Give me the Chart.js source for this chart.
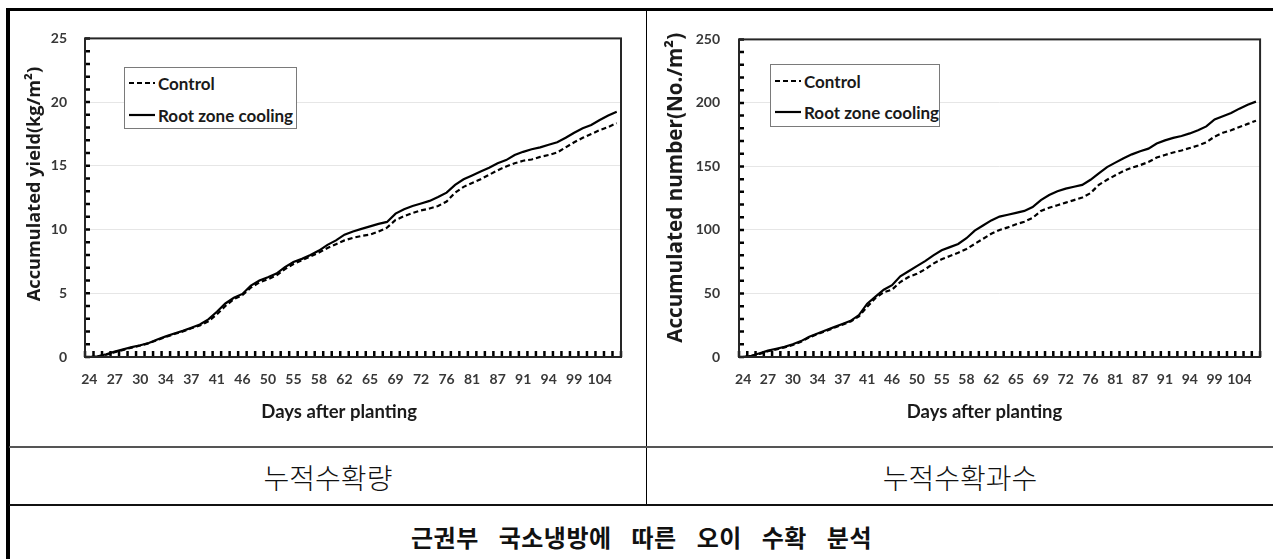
<!DOCTYPE html>
<html>
<head>
<meta charset="utf-8">
<script src="https://cdn.jsdelivr.net/npm/chart.js@4.4.0/dist/chart.umd.min.js"></script>
<style>
  html, body { margin: 0; padding: 0; background: #fff; width: 1273px; height: 559px; overflow: hidden; }
  .frame { position: absolute; left: 6px; top: 8px; width: 1280px; height: 570px; box-sizing: border-box;
           border-left: 4px solid #000; border-top: 3px solid #000; }
  .vdiv { position: absolute; left: 646px; top: 10px; width: 1px; height: 495px; background: #000; }
  .hline { position: absolute; left: 9px; width: 1270px; }
  .h1 { top: 446px; height: 2px; background: #555; }
  .h2 { top: 504px; height: 2px; background: #111; }
  canvas { position: absolute; }
  #c1 { left: 10px; top: 12px; }
  #c2 { left: 650px; top: 12px; }
  .legend { position: absolute; border: 1.5px solid #7a7a7a; background: #fff; box-sizing: border-box;
            font-family: Lato, sans-serif; font-weight: 700; font-size: 17px; color: #1a1a1a; }
  .legend .row { position: absolute; left: 4px; height: 20px; display: flex; align-items: center; white-space: nowrap; }
  .legend svg { margin-right: 3px; }
  .cap { position: absolute; top: 448px; height: 58px; line-height: 58px; text-align: center;
         font-family: 'Noto Sans CJK KR', sans-serif; font-weight: 300; font-size: 28px; color: #111; }
  .title { position: absolute; left: 10px; width: 1263px; top: 512px; height: 50px; line-height: 50px; text-align: center;
           font-family: 'Noto Sans CJK KR', sans-serif; font-weight: 700; font-size: 24px; color: #111;
           letter-spacing: 0.5px; word-spacing: 14px; }
</style>
</head>
<body>
<div class="frame"></div>
<div class="vdiv"></div>
<div class="hline h1"></div>
<div class="hline h2"></div>

<canvas id="c1" width="625" height="420"></canvas>
<canvas id="c2" width="620" height="420"></canvas>

<div class="legend" style="left:124px;top:67px;width:173px;height:62px;">
  <div class="row" style="top:5px;"><svg width="26" height="4"><line x1="0" y1="2" x2="26" y2="2" stroke="#000" stroke-width="2.2" stroke-dasharray="5,3"/></svg>Control</div>
  <div class="row" style="top:37px;"><svg width="26" height="4"><line x1="0" y1="2" x2="26" y2="2" stroke="#000" stroke-width="2.2"/></svg>Root zone cooling</div>
</div>
<div class="legend" style="left:770px;top:64px;width:170px;height:63px;">
  <div class="row" style="top:6px;"><svg width="26" height="4"><line x1="0" y1="2" x2="26" y2="2" stroke="#000" stroke-width="2.2" stroke-dasharray="5,3"/></svg>Control</div>
  <div class="row" style="top:37px;"><svg width="26" height="4"><line x1="0" y1="2" x2="26" y2="2" stroke="#000" stroke-width="2.2"/></svg>Root zone cooling</div>
</div>

<div class="cap" style="left:10px;width:636px;">누적수확량</div>
<div class="cap" style="left:647px;width:626px;">누적수확과수</div>
<div class="title">근권부 국소냉방에 따른 오이 수확 분석</div>

<script>
// Days after planting shown under every third harvest date
const tickDays = [24, 27, 30, 34, 37, 41, 46, 50, 55, 58, 62, 65, 69, 72, 76, 81, 87, 91, 94, 99, 104];

// Accumulated yield (kg/m2) per harvest date
const yieldControl = [
  0.00, 0.03, 0.18, 0.38, 0.56, 0.74, 0.90, 1.08, 1.33, 1.58,
  1.80, 2.00, 2.25, 2.48, 2.80, 3.35, 4.00, 4.55, 4.85, 5.45,
  5.85, 6.10, 6.40, 6.90, 7.30, 7.60, 7.90, 8.20, 8.55, 8.85,
  9.15, 9.35, 9.50, 9.60, 9.85, 10.15, 10.75, 11.05, 11.30, 11.50,
  11.65, 11.85, 12.20, 12.90, 13.35, 13.65, 13.95, 14.30, 14.65, 14.95,
  15.20, 15.40, 15.50, 15.70, 15.85, 16.05, 16.45, 16.85, 17.20, 17.50,
  17.80, 18.05, 18.35
];
const yieldCooling = [
  0.00, 0.05, 0.22, 0.42, 0.60, 0.78, 0.92, 1.10, 1.38, 1.62,
  1.85, 2.05, 2.30, 2.55, 2.95, 3.55, 4.20, 4.65, 4.95, 5.60,
  6.00, 6.25, 6.55, 7.05, 7.45, 7.70, 8.00, 8.35, 8.80, 9.15,
  9.60, 9.85, 10.05, 10.25, 10.45, 10.60, 11.25, 11.60, 11.85, 12.05,
  12.25, 12.55, 12.90, 13.50, 13.95, 14.25, 14.55, 14.85, 15.20, 15.45,
  15.85, 16.10, 16.30, 16.45, 16.65, 16.85, 17.20, 17.60, 17.95, 18.20,
  18.60, 18.95, 19.25
];

// Accumulated fruit number (No./m2) per harvest date
const numberControl = [
  0, 0.8, 2.5, 4.5, 6, 7.5, 9.5, 12, 15.5, 18,
  20.5, 23, 25.5, 28, 32, 39.5, 46.5, 51, 53, 59,
  63, 65.5, 69, 73.5, 77, 79.5, 82, 85, 89, 93,
  97, 100, 102, 104.5, 106.5, 109.5, 115, 117.5, 119.5, 121.5,
  123.5, 125.5, 129, 135.5, 139.5, 143, 146.5, 149, 151, 153.5,
  157, 159, 161, 162.5, 164.5, 166.5, 169, 173.5, 176.5, 178.5,
  181, 183.5, 186
];
const numberCooling = [
  0, 1, 3, 5, 6.5, 8, 10, 12.5, 16, 18.5,
  21, 23.5, 26, 28.5, 33, 42, 47.5, 53, 56.5, 63.5,
  67.5, 71.5, 75.5, 80, 84, 86.5, 89, 93.5, 99.5, 103.5,
  107.5, 110.5, 112, 113.5, 115, 118, 123.5, 127.5, 130.5, 132.5,
  134, 135.5, 139.5, 144.5, 149.5, 153, 156.5, 159.5, 162, 164,
  168, 170.5, 172.5, 174, 176, 178.5, 181.5, 187, 189.5, 192,
  195.5, 198.5, 201
];

// One category per harvest date; only every third one carries a label
const categories = yieldControl.map((_, i) => (i % 3 === 0 ? String(tickDays[i / 3]) : ''));

Chart.defaults.font.family = 'Lato, sans-serif';
Chart.defaults.color = '#3a3a3a';

// Dark box around the plotting area plus short tick marks pointing inward
const plotFrame = {
  id: 'plotFrame',
  afterDraw(chart) {
    const { ctx, chartArea: a, scales: { x, y } } = chart;
    ctx.save();
    ctx.setLineDash([]);
    ctx.strokeStyle = '#000';
    ctx.lineWidth = 2.5;
    ctx.beginPath();
    const n = chart.data.labels.length;
    const half = (x.getPixelForValue(1) - x.getPixelForValue(0)) / 2;
    for (let i = 0; i <= n; i++) {
      const px = i < n ? x.getPixelForValue(i) - half : x.getPixelForValue(n - 1) + half;
      ctx.moveTo(px, a.bottom);
      ctx.lineTo(px, a.bottom - 6);
    }
    y.ticks.forEach(t => {
      const py = y.getPixelForValue(t.value);
      ctx.moveTo(a.left, py);
      ctx.lineTo(a.left + 5, py);
    });
    ctx.stroke();
    ctx.strokeStyle = '#262626';
    ctx.lineWidth = 2;
    ctx.strokeRect(a.left, a.top, a.right - a.left, a.bottom - a.top);
    ctx.restore();
  }
};

function makeChart(canvasId, control, cooling, opts) {
  return new Chart(document.getElementById(canvasId), {
    type: 'line',
    data: {
      labels: categories,
      datasets: [
        { label: 'Control', data: control, borderColor: '#000', borderWidth: 2.2,
          borderDash: [5, 3], pointRadius: 0, tension: 0, fill: false },
        { label: 'Root zone cooling', data: cooling, borderColor: '#000', borderWidth: 2.2,
          pointRadius: 0, tension: 0, fill: false }
      ]
    },
    options: {
      responsive: false,
      animation: false,
      events: [],
      layout: { padding: { top: 25, right: opts.padRight, left: 0, bottom: 0 } },
      plugins: { legend: { display: false }, tooltip: { enabled: false } },
      scales: {
        x: {
          type: 'category',
          offset: true,
          grid: { display: true, offset: true, drawOnChartArea: false, drawTicks: false },
          border: { display: false },
          ticks: { autoSkip: false, maxRotation: 0, minRotation: 0, padding: 14,
                   font: { size: 14, weight: 'bold' }, color: '#383838' },
          title: { display: true, text: opts.xTitle, color: '#1a1a1a',
                   font: { size: 18.5, weight: 'bold' }, padding: { top: 0, bottom: 9 } },
          afterFit: s => { s.height = 75; }
        },
        y: {
          min: 0,
          max: opts.max,
          grid: {
            drawTicks: false,
            color: ctx => (ctx.tick && ctx.tick.value % opts.major === 0 ? '#e6e6e6' : 'rgba(0,0,0,0)'),
            lineWidth: 1
          },
          border: { display: false },
          ticks: {
            stepSize: opts.minor,
            autoSkip: false,
            padding: opts.tickPad,
            font: { size: 14, weight: 'bold' },
            color: '#383838',
            callback: v => (v % opts.major === 0 ? v : '')
          },
          title: { display: true, text: opts.yTitle, color: '#1a1a1a',
                   font: { family: "'Open Sans', sans-serif", size: opts.yTitleSize, weight: 'bold' },
                   padding: { top: opts.yTitlePad, bottom: 0 } },
          afterFit: s => { s.width = opts.yWidth; }
        }
      }
    },
    plugins: [plotFrame]
  });
}

makeChart('c1', yieldControl, yieldCooling, {
  max: 25, major: 5, minor: 1, padRight: 14, yWidth: 75, tickPad: 18,
  xTitle: 'Days after planting\u2003\u2003',
  yTitle: '\u2003\u2002Accumulated yield(kg/m²)', yTitleSize: 18.2, yTitlePad: 14
});
makeChart('c2', numberControl, numberCooling, {
  max: 250, major: 50, minor: 10, padRight: 7, yWidth: 89, tickPad: 19,
  xTitle: 'Days after planting\u2003\u2003\u2009',
  yTitle: '\u2003Accumulated number(No./m²)', yTitleSize: 20.7, yTitlePad: 14
});
</script>
</body>
</html>
